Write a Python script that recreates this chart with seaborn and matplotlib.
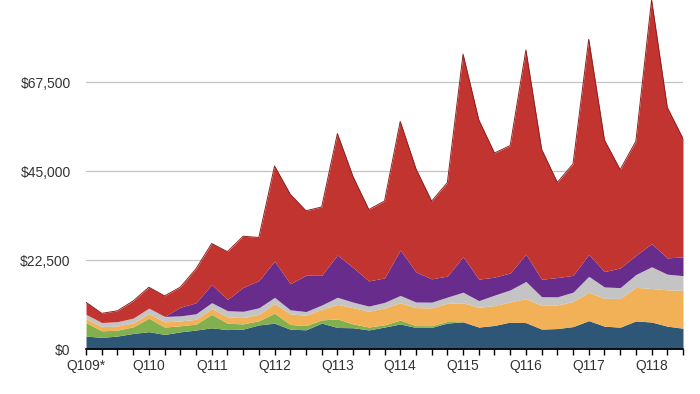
import matplotlib
matplotlib.use("Agg")
import matplotlib.pyplot as plt
import seaborn as sns
import numpy as np

# fiscal quarters, Q1 2009 .. Q3 2018
quarters = [
    "Q109", "Q209", "Q309", "Q409", "Q110", "Q210", "Q310", "Q410",
    "Q111", "Q211", "Q311", "Q411", "Q112", "Q212", "Q312", "Q412",
    "Q113", "Q213", "Q313", "Q413", "Q114", "Q214", "Q314", "Q414",
    "Q115", "Q215", "Q315", "Q415", "Q116", "Q216", "Q316", "Q416",
    "Q117", "Q217", "Q317", "Q417", "Q118", "Q218", "Q318",
]
tick_labels = ["Q109*", "Q110", "Q111", "Q112", "Q113",
               "Q114", "Q115", "Q116", "Q117", "Q118"]

# revenue by segment, $M (bottom to top of the stack)
mac = [3350, 3000, 3350, 4000, 4454, 3760, 4399, 4866,
       5428, 4976, 5105, 6162, 6598, 5073, 4933, 6617,
       5519, 5447, 4893, 5624, 6395, 5519, 5540, 6625,
       6944, 5615, 6030, 6882, 6746, 5107, 5239, 5739,
       7244, 5844, 5592, 7170, 6895, 5848, 5330]
ipod = [3371, 1666, 1492, 1677, 3391, 1861, 1545, 1497,
        3425, 1600, 1325, 1052, 2528, 1207, 1060, 820,
        2143, 962, 733, 573, 973, 461, 442, 410,
        0, 0, 0, 0, 0, 0, 0, 0,
        0, 0, 0, 0, 0, 0, 0]
services = [1011, 1049, 1036, 1000, 1164, 1327, 1214, 1214,
            1431, 1634, 1571, 1625, 2400, 2700, 2600, 2700,
            3687, 4114, 3990, 4260, 4397, 4573, 4485, 4608,
            4799, 4996, 5028, 5086, 6056, 5991, 5976, 6325,
            7172, 7041, 7266, 8501, 8471, 9190, 9548]
other = [1100, 1050, 1100, 1200, 1400, 1350, 1300, 1400,
         1500, 1550, 1600, 1650, 1600, 1000, 950, 1050,
         1800, 1400, 1300, 1400, 1850, 1400, 1450, 1550,
         2689, 1689, 2641, 3048, 4351, 2189, 2043, 2373,
         4024, 2873, 2735, 3231, 5489, 3954, 3740]
ipad = [0, 0, 0, 0, 0, 0, 2166, 2792,
        4608, 2836, 6046, 6868, 9153, 6590, 9171, 7510,
        10674, 8746, 6374, 6186, 11468, 7610, 5889, 5316,
        8985, 5428, 4538, 4276, 6873, 4413, 4876, 4255,
        5533, 3889, 4969, 4831, 5862, 4113, 4741]
iphone = [3048, 2319, 2756, 4330, 5274, 5201, 5076, 8574,
          10349, 12071, 12924, 10913, 24054, 22616, 16309, 17269,
          30689, 22934, 18033, 19429, 32511, 26083, 19626, 23614,
          51182, 40282, 31368, 32209, 51635, 32857, 24048, 28160,
          54378, 33249, 24846, 28846, 61576, 38032, 29906]

colors = ["#2e5777", "#82b04f", "#f3b157", "#c4c4c4", "#682c8c", "#c1342f"]

sns.set_theme(style="white")
plt.rcParams["font.family"] = ["Liberation Sans", "DejaVu Sans"]

fig = plt.figure(figsize=(7, 3.94), dpi=100)
ax = fig.add_axes([0.1229, 0.1135, 0.8528, 0.8865])

x = np.arange(len(quarters))
series = [mac, ipod, services, other, ipad, iphone]
ax.stackplot(x, *series, colors=colors, linewidth=0)
top = np.sum(np.array(series), axis=0)
ax.plot(x, top, color="#8e2020", lw=0.7)

ax.set_xlim(0, len(quarters) - 1)
ax.set_ylim(0, 88300)

yticks = [0, 22500, 45000, 67500]
ax.set_yticks(yticks)
ax.set_yticklabels(["${:,}".format(v) for v in yticks])
ax.yaxis.grid(True, color="#c4c4c4", lw=0.9)
ax.xaxis.grid(False)
ax.set_axisbelow(True)

ax.set_xticks(x)
ax.set_xticklabels([tick_labels[i // 4] if i % 4 == 0 else "" for i in x])

ax.tick_params(axis="y", length=0, pad=11, labelsize=10, labelcolor="#333333")
ax.tick_params(axis="x", direction="out", length=4, width=1, color="black",
               bottom=True, pad=3, labelsize=10, labelcolor="#333333")

sns.despine(ax=ax, left=True)
ax.spines["bottom"].set_color("black")
ax.spines["bottom"].set_linewidth(1.2)

fig.savefig("out.png", dpi=100)
